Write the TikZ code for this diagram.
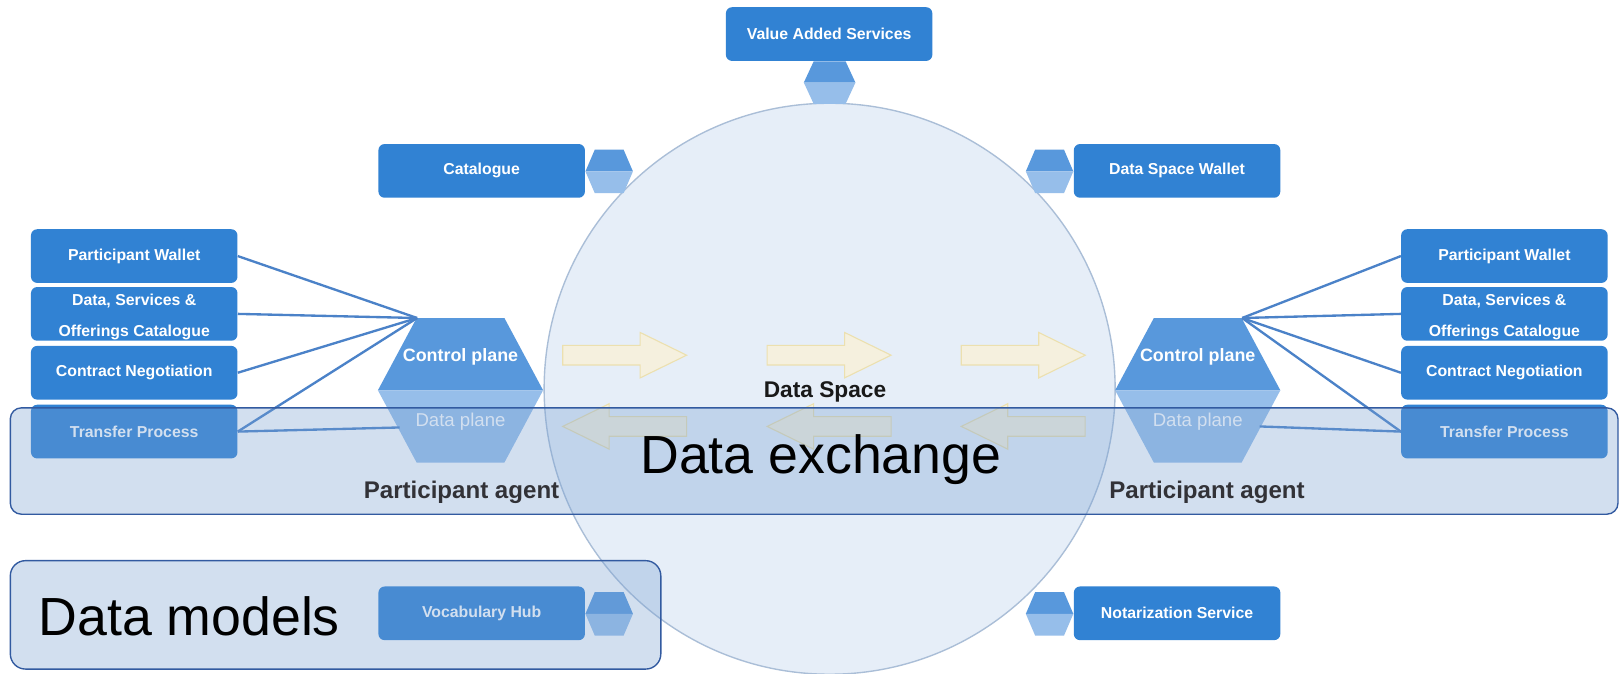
\documentclass[tikz,border=0pt]{standalone}
\usepackage{fontspec}
\setmainfont{Liberation Sans}
\definecolor{boxblue}{RGB}{49,130,211}
\definecolor{hextopc}{RGB}{88,152,220}
\definecolor{hexbotc}{RGB}{150,190,234}
\definecolor{circfill}{RGB}{230,238,248}
\definecolor{circline}{RGB}{170,190,215}
\definecolor{bandfill}{RGB}{120,160,209}
\definecolor{bandline}{RGB}{50,90,160}
\definecolor{connblue}{RGB}{75,130,200}
\definecolor{arrfill}{RGB}{245,240,222}
\definecolor{arrline}{RGB}{236,224,175}
\definecolor{agentgray}{RGB}{50,50,55}
\newcommand\myhex[5]{%
  \fill[hextopc] (#1-#3,#2) -- (#1-#4,#2-#5) -- (#1+#4,#2-#5) -- (#1+#3,#2) -- cycle;
  \fill[hexbotc] (#1-#3,#2) -- (#1-#4,#2+#5) -- (#1+#4,#2+#5) -- (#1+#3,#2) -- cycle;}
\tikzset{
  bbox/.style={rectangle, rounded corners=4.5pt, fill=boxblue, text=white,
    font=\bfseries\fontsize{11.5}{22}\selectfont, minimum width=150pt,
    minimum height=39pt, inner sep=1pt, align=center},
  conn/.style={draw=connblue, line width=1.7pt},
  arrstyle/.style={fill=arrfill, draw=arrline, line width=0.8pt, line join=miter},
  rarr/.pic={\filldraw[arrstyle] (-60,-9.5) -- (15,-9.5) -- (15,-22) -- (60,0) -- (15,22) -- (15,9.5) -- (-60,9.5) -- cycle;},
  band/.style={fill=bandfill, fill opacity=0.33, draw=bandline, draw opacity=1, line width=1pt, rounded corners=8pt},
  cptext/.style={text=white, font=\bfseries\fontsize{13}{15}\selectfont, inner sep=0pt},
  dptext/.style={text=white, font=\fontsize{13.5}{15}\selectfont, inner sep=0pt},
  agent/.style={text=agentgray, font=\bfseries\fontsize{17.5}{20}\selectfont, inner sep=0pt},
  big/.style={text=black, font=\fontsize{39}{44}\selectfont, inner sep=0pt},
}
\begin{document}
\begin{tikzpicture}[x=0.75pt, y=-0.75pt]
\clip (0,0) rectangle (1568,652);
\fill[white] (0,0) rectangle (1568,652);
% data space circle
\node[circle, minimum size=414.75pt, fill=circfill, draw=circline, line width=1pt, inner sep=0pt] (dspace) at (803.5,376.5) {};
% flow arrows
\pic at (605,344) {rarr};
\pic at (803,344) {rarr};
\pic at (991,344) {rarr};
\pic[xscale=-1] at (605,413) {rarr};
\pic[xscale=-1] at (803,413) {rarr};
\pic[xscale=-1] at (991,413) {rarr};
\node[text=black!90, font=\bfseries\fontsize{16.5}{18}\selectfont, inner sep=0pt] (dstext) at (799,380) {Data Space};
% small connector hexagons
\myhex{803.5}{80}{25}{15.5}{20.5}
\myhex{590}{166}{23}{14}{21}
\myhex{1016.5}{166}{23}{14}{21}
\myhex{590}{594.5}{23}{14}{21}
\myhex{1016.5}{594.5}{23}{14}{21}
% participant agent hexagons
\myhex{446}{378}{80}{42.5}{70}
\myhex{1160}{378}{80}{42.5}{70}
\node[cptext] (cpL) at (446,346) {Control plane};
\node[dptext] (dpL) at (446,408) {Data plane};
\node[cptext] (cpR) at (1160,346) {Control plane};
\node[dptext] (dpR) at (1160,408) {Data plane};
\coordinate (cpLc) at (404,308);
\coordinate (dpLc) at (387,414);
\coordinate (cpRc) at (1203,308);
\coordinate (dpRc) at (1220,413);
% service boxes
\node[bbox] (vas) at (803,33) {Value Added Services};
\node[bbox] (cat) at (466.5,165.5) {Catalogue};
\node[bbox] (dsw) at (1140,165.5) {Data Space Wallet};
\node[bbox] (voc) at (466.5,594) {Vocabulary Hub};
\node[bbox] (not) at (1140,594) {Notarization Service};
% left participant boxes
\node[bbox] (pwL) at (130,248) {Participant Wallet};
\node[bbox, inner ysep=0pt] (dsL) at (130,304) {\rule{0pt}{12.8pt}Data, Services \&\\Offerings Catalogue};
\node[bbox] (cnL) at (130,361) {Contract Negotiation};
\node[bbox] (tpL) at (130,418) {Transfer Process};
% right participant boxes
\node[bbox] (pwR) at (1457,248) {Participant Wallet};
\node[bbox, inner ysep=0pt] (dsR) at (1457,304) {\rule{0pt}{12.8pt}Data, Services \&\\Offerings Catalogue};
\node[bbox] (cnR) at (1457,361) {Contract Negotiation};
\node[bbox] (tpR) at (1457,418) {Transfer Process};
% connectors
\draw[conn] (pwL.east) -- (cpLc);
\draw[conn] (dsL.east) -- (cpLc);
\draw[conn] (cnL.east) -- (cpLc);
\draw[conn] (tpL.east) -- (cpLc);
\draw[conn] (tpL.east) -- (dpLc);
\draw[conn] (cpRc) -- (pwR.west);
\draw[conn] (cpRc) -- (dsR.west);
\draw[conn] (cpRc) -- (cnR.west);
\draw[conn] (cpRc) -- (tpR.west);
\draw[conn] (dpRc) -- (tpR.west);
% bands
\draw[band] (10,395) rectangle (1567,498);
\draw[band, rounded corners=11pt] (10,543) rectangle (640,648);
% band labels
\node[big] (dex) at (795,445) {Data exchange};
\node[big, anchor=west] (dmod) at (37,597) {Data models};
\node[agent] (paL) at (447,477) {Participant agent};
\node[agent] (paR) at (1169,477) {Participant agent};
\end{tikzpicture}
\end{document}
